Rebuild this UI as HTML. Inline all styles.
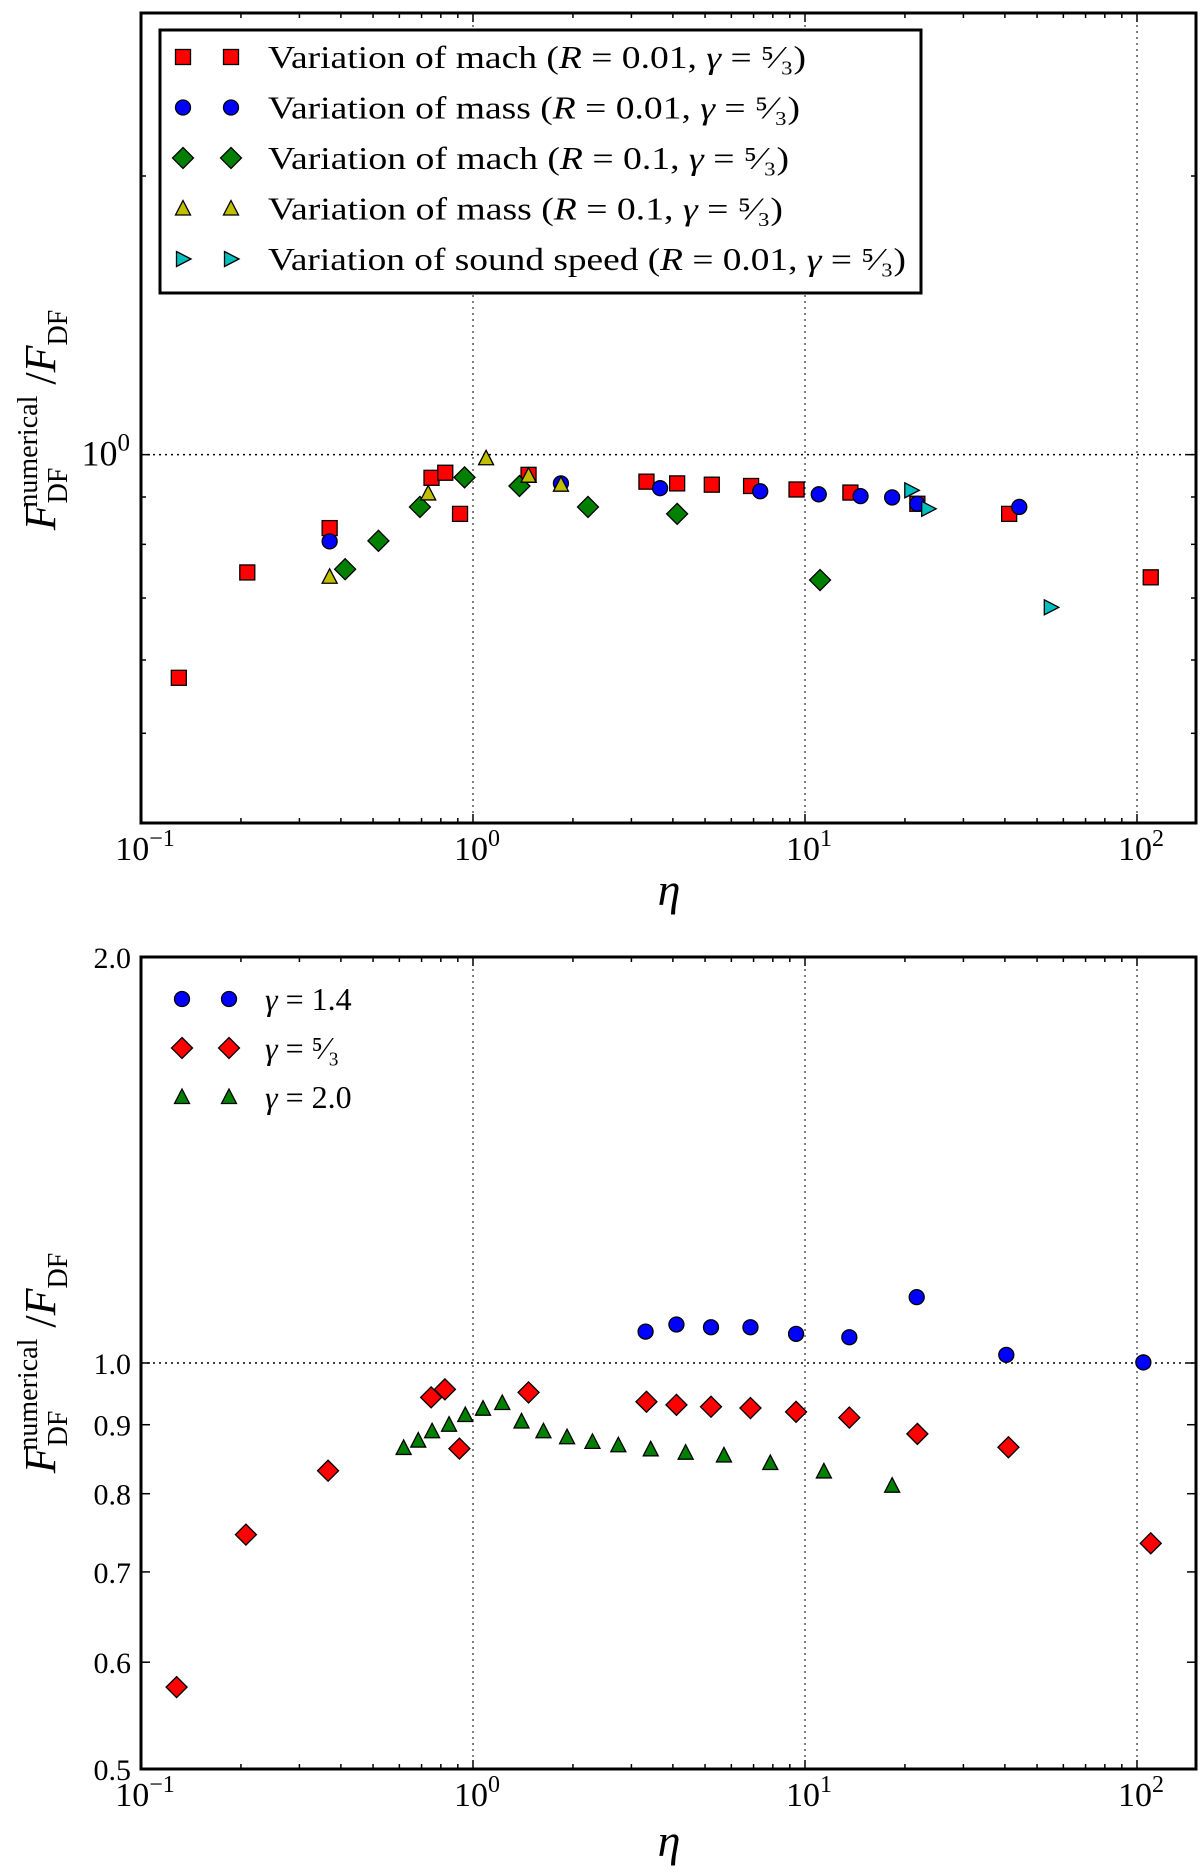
<!DOCTYPE html>
<html><head><meta charset="utf-8"><style>
html,body{margin:0;padding:0;background:#fff;}
svg{display:block;}
svg text{font-family:"Liberation Serif","DejaVu Serif",serif;}
</style></head><body>
<svg id="fig" width="1200" height="1873" viewBox="0 0 1200 1873" xmlns="http://www.w3.org/2000/svg" font-family="Liberation Serif, serif">
<g id="top"></g>
<g id="bot"></g>
</svg>
<script>
// ---------- Top panel data ----------
const machR001Eta=[0.13,0.209,0.37,0.75,0.825,0.914,1.47,3.33,4.12,5.24,6.88,9.43,13.7,21.8,41.2,110];
const machR001F=[0.574,0.746,0.833,0.944,0.956,0.863,0.951,0.935,0.931,0.928,0.925,0.917,0.910,0.885,0.863,0.737];
const massR001Eta=[0.37,1.84,3.66,7.33,11.0,14.7,18.3,21.8,44.2];
const massR001F=[0.806,0.931,0.920,0.913,0.906,0.902,0.899,0.885,0.878];
const machR01Eta=[0.412,0.519,0.692,0.943,1.38,2.22,4.12,11.1];
const machR01F=[0.752,0.807,0.878,0.945,0.925,0.878,0.863,0.732];
const massR01Eta=[0.37,0.733,1.095,1.47,1.84];
const massR01F=[0.738,0.908,0.991,0.949,0.928];
const soundEta=[20.9,23.5,55];
const soundF=[0.915,0.874,0.684];
// ---------- Bottom panel data ----------
const g14Eta=[3.31,4.10,5.21,6.85,9.4,13.6,21.7,40.4,104.5];
const g14F=[1.055,1.068,1.063,1.063,1.051,1.045,1.119,1.014,1.001];
const g53Eta=[0.128,0.207,0.366,0.748,0.823,0.91,1.47,3.33,4.10,5.21,6.85,9.4,13.6,21.8,41.0,110];
const g53F=[0.575,0.746,0.832,0.943,0.956,0.864,0.951,0.936,0.931,0.928,0.926,0.920,0.911,0.886,0.866,0.735];
const g20Eta=[0.618,0.684,0.753,0.847,0.948,1.072,1.225,1.40,1.63,1.92,2.29,2.74,3.43,4.37,5.70,7.86,11.4,18.3];
const g20F=[0.865,0.876,0.890,0.900,0.915,0.925,0.934,0.905,0.890,0.881,0.874,0.869,0.863,0.858,0.854,0.843,0.831,0.811];
const xTickLabels=["-1","0","1","2"];
const botYTicks=[2.0,1.0,0.9,0.8,0.7,0.6,0.5];
const botYTickLabels=["2.0","1.0","0.9","0.8","0.7","0.6","0.5"];

const NS="http://www.w3.org/2000/svg";
const FF='"Liberation Serif", serif';
function mk(parent,tag,attrs){const e=document.createElementNS(NS,tag);for(const k in attrs)e.setAttribute(k,attrs[k]);parent.appendChild(e);return e;}

const XL=141, XR=1196, DEC=332;
function xScale(v){return XL+(Math.log10(v)+1)*DEC;}

function marker(g,type,cx,cy,color,name){
  let e;
  if(type==='s'){e=mk(g,'rect',{x:cx-7.5,y:cy-7.5,width:15,height:15});}
  else if(type==='o'){e=mk(g,'circle',{cx:cx,cy:cy,r:7.5});}
  else if(type==='d'){e=mk(g,'polygon',{points:`${cx},${cy-10.5} ${cx+10.5},${cy} ${cx},${cy+10.5} ${cx-10.5},${cy}`});}
  else if(type==='^'){e=mk(g,'polygon',{points:`${cx},${cy-8} ${cx+7.5},${cy+6.5} ${cx-7.5},${cy+6.5}`});}
  else if(type==='>'){e=mk(g,'polygon',{points:`${cx+8},${cy} ${cx-6.5},${cy-7.5} ${cx-6.5},${cy+7.5}`});}
  e.setAttribute('fill',color);e.setAttribute('stroke','#000');e.setAttribute('stroke-width','1.3');
  
  
  return e;
}

function panel(g,top,bottom,ymin,ymax,opts){
  const yScale=v=>bottom-(Math.log10(v)-Math.log10(ymin))/(Math.log10(ymax)-Math.log10(ymin))*(bottom-top);
  [1,10,100].forEach(v=>{const l=mk(g,'line',{x1:xScale(v),x2:xScale(v),y1:top,y2:bottom,stroke:'#000','stroke-width':1,'stroke-dasharray':'2,4'});
    });
  const hl=mk(g,'line',{x1:XL,x2:XR,y1:yScale(1),y2:yScale(1),stroke:'#000','stroke-width':1.5,'stroke-dasharray':'2,4'});
  
  for(let d=-1;d<=2;d++){for(let m=1;m<=9;m++){const v=m*Math.pow(10,d);const x=xScale(v);if(x>XR)continue;
    const len=m===1?9:5;
    mk(g,'line',{x1:x,x2:x,y1:bottom,y2:bottom-len,stroke:'#000','stroke-width':1.5});
    mk(g,'line',{x1:x,x2:x,y1:top,y2:top+len,stroke:'#000','stroke-width':1.5});}}
  xTickLabels.forEach((s,i)=>{const x=xScale(Math.pow(10,i-1));
    const t=mk(g,'text',{x:x+4,y:bottom+37,'text-anchor':'middle','font-size':34,'font-family':FF});
    
    t.textContent='10';const sp=mk(t,'tspan',{dy:-14,'font-size':24});sp.textContent=s.replace('-','\u2212');});
  opts.yticks.forEach(o=>{const y=yScale(o.v);const len=o.major?9:5;
    mk(g,'line',{x1:XL,x2:XL+len,y1:y,y2:y,stroke:'#000','stroke-width':1.5});
    mk(g,'line',{x1:XR,x2:XR-len,y1:y,y2:y,stroke:'#000','stroke-width':1.5});
    if(o.label){const t=mk(g,'text',{x:opts.lblX,y:y+11,'text-anchor':'end','font-size':opts.lblSize,'font-family':FF});
      
      if(o.label==='10^0'){t.textContent='10';const sp=mk(t,'tspan',{dy:-15,'font-size':25});sp.textContent='0';}
      else t.textContent=o.label;}});
  const fr=mk(g,'rect',{x:XL,y:top,width:XR-XL,height:bottom-top,fill:'none',stroke:'#000','stroke-width':3});
  
  const xl=mk(g,'text',{x:669,y:opts.etaY,'text-anchor':'middle','font-size':46,'font-style':'italic','font-family':FF});
  xl.textContent='\u03B7';
  const yl=mk(g,'text',{x:0,y:0,transform:`translate(55,${opts.ylabelY}) rotate(-90)`,'text-anchor':'middle','font-size':44,'font-family':FF});
  
  let s=mk(yl,'tspan',{'font-style':'italic'});s.textContent='F';
  s=mk(yl,'tspan',{'font-size':28,dy:12});s.textContent='DF';
  s=mk(yl,'tspan',{'font-size':28,dx:-40,dy:-30});s.textContent='numerical';
  s=mk(yl,'tspan',{dy:18});s.textContent=' /';
  s=mk(yl,'tspan',{'font-style':'italic'});s.textContent='F';
  s=mk(yl,'tspan',{'font-size':28,dy:12});s.textContent='DF';
  return yScale;
}

const gt=document.getElementById('top');
const ysT=panel(gt,13,823,0.4,3.0,{yticks:[{v:1,major:true,label:'10^0'},{v:0.5},{v:0.6},{v:0.7},{v:0.8},{v:0.9},{v:2},{v:3}],lblX:130,lblSize:36,etaY:905,ylabelY:420});
const topSeries=[
 {eta:machR001Eta,f:machR001F,t:'s',c:'#ff0000',n:'mach-r001-point',label:'Variation of mach (',R:'0.01',end:806},
 {eta:massR001Eta,f:massR001F,t:'o',c:'#0000ff',n:'mass-r001-point',label:'Variation of mass (',R:'0.01',end:800},
 {eta:machR01Eta,f:machR01F,t:'d',c:'#008000',n:'mach-r01-point',label:'Variation of mach (',R:'0.1',end:789},
 {eta:massR01Eta,f:massR01F,t:'^',c:'#bfbf00',n:'mass-r01-point',label:'Variation of mass (',R:'0.1',end:783},
 {eta:soundEta,f:soundF,t:'>',c:'#00bfbf',n:'sound-speed-point',label:'Variation of sound speed (',R:'0.01',end:906}];
topSeries.forEach(S=>S.eta.forEach((e,i)=>marker(gt,S.t,xScale(e),ysT(S.f[i]),S.c,S.n)));
const lgT=mk(gt,'g',{});

mk(lgT,'rect',{x:160,y:30,width:761,height:263,fill:'#fff',stroke:'#000','stroke-width':3});
topSeries.forEach((S,i)=>{const y=57+i*50.5;
  marker(lgT,S.t,183,y,S.c,'legend-marker');marker(lgT,S.t,231,y,S.c,'legend-marker');
  const t=mk(lgT,'text',{x:268,y:y+11,'font-size':32,'font-family':FF,textLength:S.end-268,lengthAdjust:'spacingAndGlyphs'});
  
  t.textContent=S.label;let sp=mk(t,'tspan',{'font-style':'italic'});sp.textContent='R';
  sp=mk(t,'tspan',{});sp.textContent=' = '+S.R+', ';
  sp=mk(t,'tspan',{'font-style':'italic'});sp.textContent='\u03B3';
  sp=mk(t,'tspan',{});sp.textContent=' = \u2075\u2044\u2083)';});

const gb=document.getElementById('bot');
const ysB=panel(gb,957,1769,0.5,2.0,{yticks:botYTicks.map((v,i)=>({v:v,major:true,label:botYTickLabels[i]})),lblX:131,lblSize:30,etaY:1856,ylabelY:1363});
const botSeries=[
 {eta:g14Eta,f:g14F,t:'o',c:'#0000ff',n:'gamma-1.4-point',label:'1.4'},
 {eta:g53Eta,f:g53F,t:'d',c:'#ff0000',n:'gamma-5-3-point',label:'\u2075\u2044\u2083'},
 {eta:g20Eta,f:g20F,t:'^',c:'#008000',n:'gamma-2.0-point',label:'2.0'}];
botSeries.forEach(S=>S.eta.forEach((e,i)=>marker(gb,S.t,xScale(e),ysB(S.f[i]),S.c,S.n)));
const lgB=mk(gb,'g',{});

botSeries.forEach((S,i)=>{const y=999+i*49;
  marker(lgB,S.t,182,y,S.c,'legend-marker');marker(lgB,S.t,229,y,S.c,'legend-marker');
  const t=mk(lgB,'text',{x:265,y:y+11,'font-size':32,'font-family':FF});
  
  let sp=mk(t,'tspan',{'font-style':'italic'});sp.textContent='\u03B3';
  sp=mk(t,'tspan',{});sp.textContent=' = '+S.label;});
</script>
</body></html>
